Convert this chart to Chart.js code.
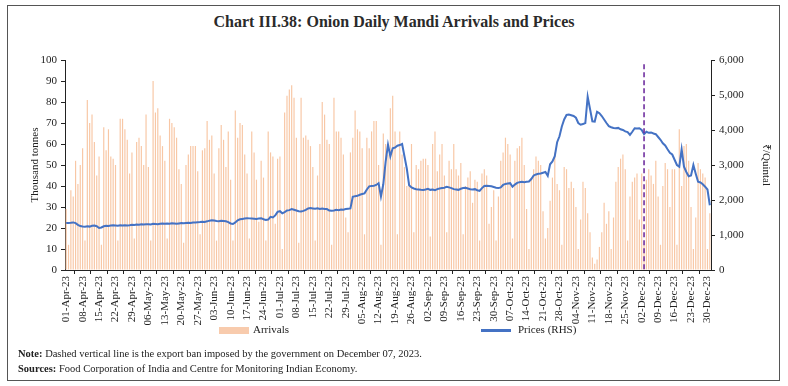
<!DOCTYPE html>
<html><head><meta charset="utf-8">
<script src="https://cdn.jsdelivr.net/npm/chart.js@4.4.0/dist/chart.umd.min.js"></script>
<style>
html,body{margin:0;padding:0;background:#fff;}
#wrap{position:relative;width:788px;height:386px;overflow:hidden;font-family:"Liberation Serif",serif;color:#222;}
#frame{position:absolute;left:7px;top:5px;width:773px;height:376px;border:1px solid #555;box-sizing:border-box;}
#title{position:absolute;left:0;top:13px;width:788px;text-align:center;font-weight:bold;font-size:16px;color:#2a2a2a;}
canvas{position:absolute;left:0;top:0;}
.leg{position:absolute;font-size:11px;color:#222;}
.sw{position:absolute;}
#notes{position:absolute;left:18px;top:346px;font-size:10.5px;line-height:15px;color:#222;}
</style></head>
<body><div id="wrap">
<div id="frame"></div>
<div id="title">Chart III.38: Onion Daily Mandi Arrivals and Prices</div>
<canvas id="c" width="788" height="386"></canvas>
<div class="sw" style="left:219px;top:327px;width:30px;height:7px;background:#F8CBAD"></div>
<div class="leg" style="left:253px;top:323px">Arrivals</div>
<div class="sw" style="left:481px;top:329px;width:30px;height:3px;background:#4472C4"></div>
<div class="leg" style="left:518px;top:323px">Prices (RHS)</div>
<div id="notes"><b>Note:</b> Dashed vertical line is the export ban imposed by the government on December 07, 2023.<br><b>Sources:</b> Food Corporation of India and Centre for Monitoring Indian Economy.</div>
</div>
<script>
// Categories: daily, 01-Apr-23 to 31-Dec-23
const startDate = [2023, 3, 1];
const dayCount = 275;
const tickLabels = ['01-Apr-23','08-Apr-23','15-Apr-23','22-Apr-23','29-Apr-23','06-May-23','13-May-23','20-May-23','27-May-23','03-Jun-23','10-Jun-23','17-Jun-23','24-Jun-23','01-Jul-23','08-Jul-23','15-Jul-23','22-Jul-23','29-Jul-23','05-Aug-23','12-Aug-23','19-Aug-23','26-Aug-23','02-Sep-23','09-Sep-23','16-Sep-23','23-Sep-23','30-Sep-23','07-Oct-23','14-Oct-23','21-Oct-23','28-Oct-23','04-Nov-23','11-Nov-23','18-Nov-23','25-Nov-23','02-Dec-23','09-Dec-23','16-Dec-23','23-Dec-23','30-Dec-23'];
const banLine = '03-Dec-23';

// Arrivals (thousand tonnes), Sat..Fri weeks
const arrivals = [
29,12,38,35,52,41,50,
58,14,81,70,74,61,45,
54,12,68,57,67,54,53,
50,14,72,72,67,62,46,
56,15,61,63,59,50,74,
49,14,90,75,77,64,59,
52,15,72,70,68,63,48,
41,13,50,55,59,59,59,
47,17,57,58,71,62,64,
46,14,58,69,62,49,66,
43,14,76,63,70,69,55,
46,15,66,56,43,23,52,
44,14,66,56,54,22,53,
54,10,75,83,86,88,82,
63,13,82,63,64,62,59,
49,14,45,60,80,74,62,
60,12,82,66,66,63,55,
25,18,56,63,76,67,66,
58,17,63,58,66,71,71,
50,12,65,60,55,77,83,
66,17,66,55,49,40,42,
60,18,50,48,52,53,53,
50,16,60,66,47,55,60,
45,18,52,48,60,48,45,
51,17,40,44,47,32,43,
42,14,46,48,45,22,30,
38,14,35,52,56,63,60,
55,15,52,58,59,63,50,
29,10,44,48,54,52,50,
28,15,20,33,44,56,41,
38,12,49,48,39,42,39,
30,10,24,42,39,27,18,
6,3,5,11,18,32,22,
28,10,25,42,49,53,55,
48,14,35,42,44,46,24,
46,12,43,48,45,41,52,
35,12,40,51,48,30,48,
48,12,67,40,59,60,52,
30,10,25,51,48,46,44,
10,27];

// Prices (Rs/quintal)
const prices = [
1340,1345,1350,1360,1340,1290,1255,
1240,1235,1250,1240,1265,1270,1250,
1200,1215,1250,1265,1260,1270,1275,
1270,1265,1275,1270,1280,1275,1280,
1290,1285,1300,1295,1310,1300,1305,
1310,1300,1320,1315,1310,1320,1325,
1320,1330,1325,1335,1330,1320,1330,
1340,1335,1345,1350,1340,1355,1360,
1365,1370,1380,1375,1390,1410,1420,
1415,1400,1395,1405,1400,1390,1370,
1330,1315,1360,1420,1450,1460,1470,
1480,1475,1470,1465,1460,1470,1480,
1450,1430,1440,1520,1500,1560,1660,
1680,1620,1650,1700,1710,1740,1720,
1700,1680,1670,1690,1720,1760,1770,
1760,1750,1765,1745,1760,1745,1740,
1700,1690,1700,1720,1710,1730,1725,
1740,1750,1760,2090,2110,2120,2150,
2170,2190,2300,2390,2400,2410,2430,
2480,2100,2450,3100,3580,3250,3480,
3500,3550,3570,3600,3250,2900,2420,
2360,2330,2310,2300,2290,2285,2300,
2320,2290,2300,2280,2310,2330,2340,
2350,2380,2360,2340,2310,2300,2290,
2320,2340,2350,2330,2310,2300,2310,
2280,2260,2340,2400,2410,2400,2390,
2370,2350,2340,2360,2430,2460,2470,
2480,2380,2440,2490,2510,2520,2510,
2520,2530,2600,2700,2730,2750,2760,
2780,2800,2690,3020,3100,3250,3650,
3820,4100,4300,4430,4440,4420,4400,
4350,4200,4150,4170,4200,4950,4600,
4250,4240,4520,4480,4400,4300,4200,
4110,4080,4060,4050,4060,4020,4000,
3960,3940,3860,3950,4050,4040,4050,
4000,3880,3950,3920,3930,3900,3880,
3800,3720,3620,3560,3450,3350,3300,
3150,3000,2950,3450,2950,2800,2680,
2700,3000,2750,2520,2500,2450,2380,
2300,1850];

const months = ['Jan','Feb','Mar','Apr','May','Jun','Jul','Aug','Sep','Oct','Nov','Dec'];
const categories = [];
for (let i = 0; i < dayCount; i++) {
  const d = new Date(startDate[0], startDate[1], startDate[2] + i);
  categories.push(String(d.getDate()).padStart(2,'0') + '-' + months[d.getMonth()] + '-' + String(d.getFullYear()).slice(2));
}

const tickFont = {family: '"Liberation Serif", serif', size: 11};

const banPlugin = {
  id: 'ban',
  afterDatasetsDraw(chart) {
    const xs = chart.scales.x, ca = chart.chartArea, ctx = chart.ctx;
    const x = xs.getPixelForValue(categories.indexOf(banLine));
    ctx.save();
    ctx.strokeStyle = '#7030A0';
    ctx.lineWidth = 1.6;
    ctx.setLineDash([5, 3]);
    ctx.beginPath();
    ctx.moveTo(x, chart.scales.y1.getPixelForValue(5880));
    ctx.lineTo(x, ca.bottom);
    ctx.stroke();
    ctx.restore();
  }
};

new Chart(document.getElementById('c'), {
  data: {
    labels: categories,
    datasets: [
      {type: 'line', label: 'Prices (RHS)', data: prices, yAxisID: 'y1', borderColor: '#4472C4', borderWidth: 2, pointRadius: 0, tension: 0, order: 0},
      {type: 'bar', label: 'Arrivals', data: arrivals, yAxisID: 'y', backgroundColor: '#F8C7A5', barPercentage: 0.5, categoryPercentage: 1.0, order: 1}
    ]
  },
  options: {
    responsive: false,
    animation: false,
    events: [],
    layout: {padding: {top: 60, left: 27, right: 14, bottom: 56}},
    plugins: {legend: {display: false}, tooltip: {enabled: false}, title: {display: false}},
    scales: {
      x: {
        offset: true,
        grid: {display: true, drawOnChartArea: false, drawTicks: true, tickLength: 4, color: '#222'},
        border: {display: true, color: '#222', width: 1},
        ticks: {
          autoSkip: false, maxRotation: 90, minRotation: 90, padding: 2,
          font: tickFont, color: '#222',
          callback: function(v, i) { return tickLabels.includes(categories[i]) ? categories[i] : null; }
        },
        afterFit(s) { s.height = 60; }
      },
      y: {
        position: 'left', min: 0, max: 100,
        grid: {display: true, drawOnChartArea: false, drawTicks: true, tickLength: 4, color: '#222'},
        border: {display: true, color: '#222', width: 1},
        ticks: {stepSize: 10, font: tickFont, color: '#222', padding: 4},
        title: {display: true, text: 'Thousand tonnes', font: tickFont, color: '#222', padding: 2},
        afterFit(s) { s.width = 38; }
      },
      y1: {
        position: 'right', min: 0, max: 6000,
        grid: {display: true, drawOnChartArea: false, drawTicks: true, tickLength: 4, color: '#222'},
        border: {display: true, color: '#222', width: 1},
        ticks: {stepSize: 1000, font: tickFont, color: '#222', padding: 4,
          callback: v => v.toLocaleString('en-US')},
        title: {display: true, text: '₹/Quintal', font: tickFont, color: '#222', padding: 2},
        afterFit(s) { s.width = 63; }
      }
    }
  },
  plugins: [banPlugin]
});
</script>
</body></html>
